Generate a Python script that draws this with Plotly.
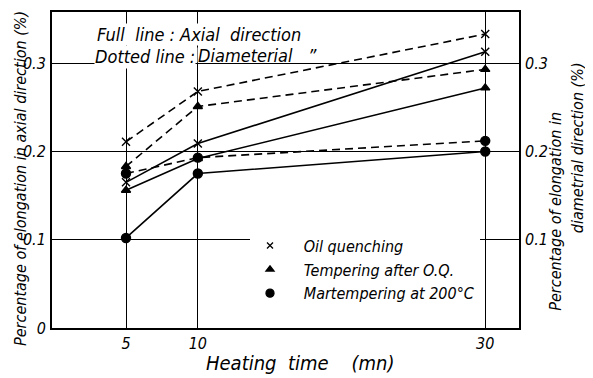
import plotly.graph_objects as go

# ---- data ----
heating_time = [5, 10, 30]
oil_axial = [0.165, 0.209, 0.313]
oil_diam = [0.211, 0.268, 0.333]
temper_axial = [0.156, 0.192, 0.272]
temper_diam = [0.183, 0.251, 0.293]
marte_axial = [0.102, 0.175, 0.200]
marte_diam = [0.175, 0.193, 0.212]

x_ticks = [5, 10, 30]
x_ticktext = ["5", "10", "30"]
y_ticks = [0, 0.1, 0.2, 0.3]
y_ticktext = ["0", "0.1", "0.2", "0.3"]
y2_ticks = [0.1, 0.2, 0.3]
y2_ticktext = ["0.1", "0.2", "0.3"]

series = [
    ("Oil quenching", "x-thin", oil_axial, oil_diam, 8, 6),
    ("Tempering after O.Q.", "triangle-up", temper_axial, temper_diam, 8, 7),
    ("Martempering at 200°C", "circle", marte_axial, marte_diam, 9, 8),
]

FONT = "Liberation Sans Narrow, DejaVu Sans Condensed, DejaVu Sans, sans-serif"
OFF = 8  # default page body margin
PAGE_W, PAGE_H = 593, 378
W, H = PAGE_W - OFF, PAGE_H - OFF
PL, PR, PT, PB = 52, 519, 10, 328  # plot area in page pixels
PW, PH = PR - PL, PB - PT


def px(x):
    return (x - PL) / PW


def py(y):
    return (PB - y) / PH


fig = go.Figure()
for name, sym, ax, di, sz, lsz in series:
    mk = dict(symbol=sym, size=sz, color="black",
              line=dict(color="black", width=1.4))
    fig.add_trace(go.Scatter(x=heating_time, y=ax, mode="lines+markers",
                             line=dict(color="black", width=1.6),
                             marker=mk, showlegend=False))
    fig.add_trace(go.Scatter(x=heating_time, y=di, mode="lines+markers",
                             line=dict(color="black", width=1.6, dash="8px,5px"),
                             marker=mk, showlegend=False))
    fig.add_trace(go.Scatter(x=[None], y=[None], mode="markers", name="   " + name,
                             marker=dict(symbol=sym, size=lsz, color="black",
                                         line=dict(color="black", width=1.3)),
                             showlegend=True))

fig.add_trace(go.Scatter(x=[None], y=[None], yaxis="y2", showlegend=False))

fig.update_layout(
    width=W, height=H,
    margin=dict(l=PL - OFF, r=W - (PR - OFF), t=PT - OFF, b=H - (PB - OFF)),
    paper_bgcolor="white", plot_bgcolor="white",
    font=dict(family=FONT, size=15, color="black", style="italic"),
    xaxis=dict(range=[-0.15, 32.35], tickvals=x_ticks, ticktext=x_ticktext,
               showgrid=True, gridcolor="black", gridwidth=1.2,
               showline=True, linecolor="black", linewidth=2, mirror=True,
               zeroline=False, ticks="", ticklabelstandoff=0,
               tickfont=dict(family=FONT, size=16, style="italic")),
    yaxis=dict(range=[0, 0.358], tickvals=y_ticks, ticktext=y_ticktext,
               showgrid=True, gridcolor="black", gridwidth=1.2,
               showline=True, linecolor="black", linewidth=2, mirror=True,
               zeroline=False, ticks="", ticklabelstandoff=1,
               tickfont=dict(family=FONT, size=16, style="italic")),
    yaxis2=dict(range=[0, 0.358], tickvals=y2_ticks, ticktext=y2_ticktext,
                overlaying="y", side="right", showgrid=False, zeroline=False,
                showline=False, ticks="", ticklabelstandoff=5,
                tickfont=dict(family=FONT, size=16, style="italic")),
    legend=dict(x=px(250), y=py(228), xanchor="left", yanchor="top",
                bgcolor="white", borderwidth=0,
                font=dict(family=FONT, size=16, style="italic"),
                itemsizing="trace", tracegroupgap=0),
    showlegend=True,
)

ann = []
ann.append(dict(text="Full  line : Axial  direction", x=px(96), y=py(33),
                xanchor="left", yanchor="middle", bgcolor="white", borderpad=0,
                font=dict(size=18)))
ann.append(dict(text="Dotted line :", x=px(94), y=py(43),
                xanchor="left", yanchor="top", bgcolor="white", borderpad=0,
                height=22, valign="top", font=dict(size=18)))
ann.append(dict(text="Diameterial   ”", x=px(197), y=py(53),
                xanchor="left", yanchor="middle", bgcolor="white", borderpad=0,
                height=14, valign="middle", font=dict(size=18)))
ann.append(dict(text="Percentage of elongation in axial direction (%)",
                x=px(21), y=py(178), textangle=-90, xanchor="center",
                yanchor="middle", font=dict(size=16)))
ann.append(dict(text="Percentage of elongation in",
                x=px(556), y=py(211), textangle=-90, xanchor="center",
                yanchor="middle", font=dict(size=16)))
ann.append(dict(text="diametrial direction (%)",
                x=px(577), y=py(147), textangle=-90, xanchor="center",
                yanchor="middle", font=dict(size=16)))
ann.append(dict(text="Heating  time    (mn)", x=px(300), y=py(363),
                xanchor="center", yanchor="middle", font=dict(size=20)))
for a in ann:
    a.update(xref="paper", yref="paper", showarrow=False)
fig.update_layout(annotations=ann)

fig.write_html("out.html")
